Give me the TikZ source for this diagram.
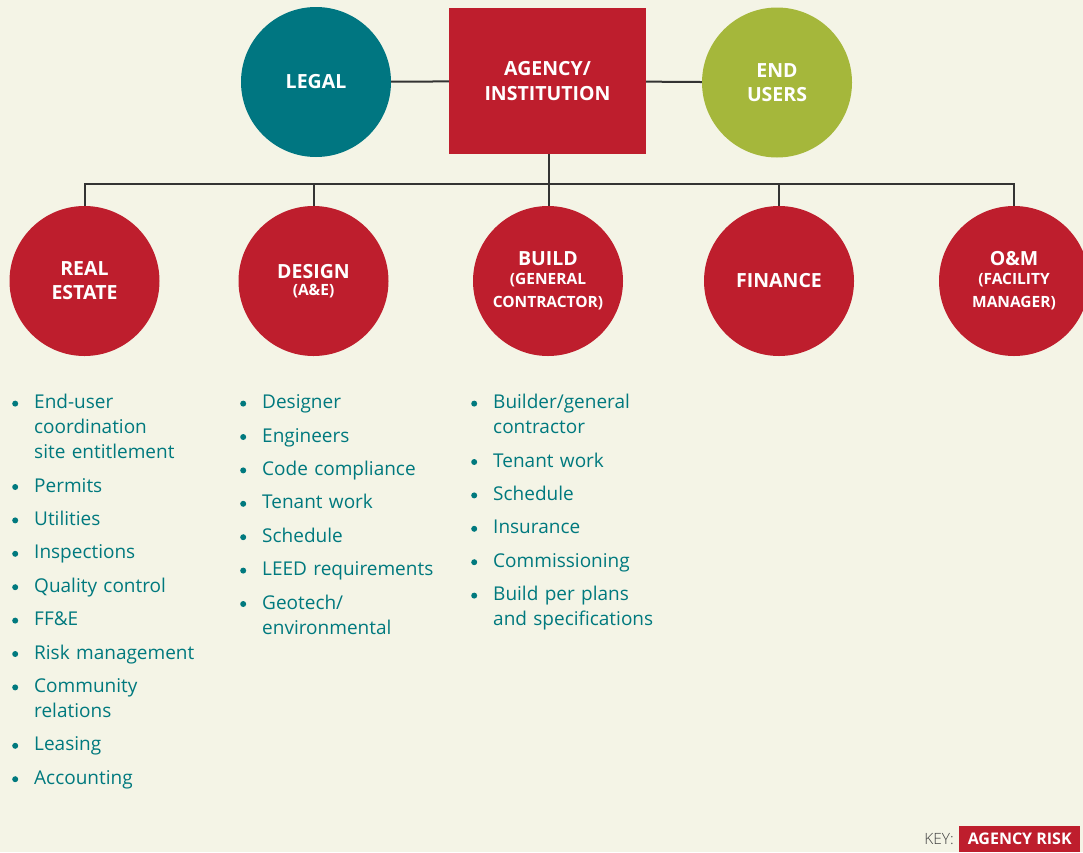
\documentclass[tikz,border=0pt]{standalone}
\usepackage{fontspec}
\setmainfont{Open Sans}
\newfontfamily\lightfont{Open Sans Light}
\definecolor{bg}{HTML}{F4F4E6}
\definecolor{agred}{HTML}{BE1E2D}
\definecolor{legalteal}{HTML}{007681}
\definecolor{usergreen}{HTML}{A5B73B}
\definecolor{listteal}{HTML}{00797E}
\definecolor{linegray}{HTML}{333333}
\newcommand{\bulletdot}{\raisebox{5pt}{\tikz[baseline=0pt]\fill[listteal] (0,0) circle (3pt);}}
\newcommand{\itm}[1]{\par\hangindent=22pt\hangafter=1\noindent\makebox[22pt][l]{\bulletdot}#1\par}
\newcommand{\listsetup}{\setlength{\parskip}{8.4pt}\setlength{\parindent}{0pt}\fontsize{19}{25}\selectfont}
\tikzset{
  x=1pt, y=1pt,
  conn/.style={draw=linegray, line width=2pt},
  bigcircle/.style={circle, minimum size=150pt, inner sep=0pt, fill=agred, text=white, align=center, font=\fontsize{19.5}{24}\selectfont\bfseries},
  listcol/.style={anchor=north west, inner sep=0pt, text width=240pt, text=listteal,
     font=\fontsize{19}{25}\selectfont},
}
\newcommand{\subt}[1]{{\fontsize{15.5}{17}\selectfont #1}}
\begin{document}
\begin{tikzpicture}
\useasboundingbox (0,0) rectangle (1083,-852);
\fill[bg] (0,0) rectangle (1083,-852);
% top row
\node[bigcircle, fill=legalteal] (legal) at (316,-82) {LEGAL};
\node[rectangle, minimum width=197pt, minimum height=146pt, inner sep=0pt, fill=agred, text=white, align=center,
      font=\fontsize{19.5}{25}\selectfont\bfseries] (agency) at (547.5,-81) {AGENCY/\\INSTITUTION};
\node[bigcircle, fill=usergreen] (endusers) at (777,-82.5) {END\\USERS};
% bottom row
\node[bigcircle] (realestate) at (84.5,-281) {REAL\\ESTATE};
\node[bigcircle] (design) at (313.5,-281) {DESIGN\\[-7pt]\subt{(A\&E)}};
\node[bigcircle] (build) at (548,-281) {BUILD\\[-5pt]\subt{(GENERAL}\\[-1pt]\subt{CONTRACTOR)}};
\node[bigcircle] (finance) at (779,-281) {FINANCE};
\node[bigcircle] (om) at (1014,-281) {O\&M\\[-5pt]\subt{(FACILITY}\\[-1pt]\subt{MANAGER)}};
\coordinate (bus) at (548.5,-184);
% connectors
\draw[conn] (legal) -- (agency);
\draw[conn] (agency) -- (endusers);
\draw[conn] (agency.south -| bus) -- (bus);
\draw[conn] (realestate.north) -- (realestate.north |- bus) -- (om.north |- bus) -- (om.north);
\draw[conn] (design.north) -- (design.north |- bus);
\draw[conn] (bus) -- (build.north -| bus);
\draw[conn] (finance.north) -- (finance.north |- bus);
% lists
\node[listcol] (list1) at (12,-375) {\listsetup
\itm{End-user\newline coordination\newline site entitlement}
\itm{Permits}
\itm{Utilities}
\itm{Inspections}
\itm{Quality control}
\itm{FF\&E}
\itm{Risk management}
\itm{Community\newline relations}
\itm{Leasing}
\itm{Accounting}};
\node[listcol] (list2) at (240,-375) {\listsetup
\itm{Designer}
\itm{Engineers}
\itm{Code compliance}
\itm{Tenant work}
\itm{Schedule}
\itm{LEED requirements}
\itm{Geotech/\newline environmental}};
\node[listcol] (list3) at (471,-375) {\listsetup
\itm{Builder/general\newline contractor}
\itm{Tenant work}
\itm{Schedule}
\itm{Insurance}
\itm{Commissioning}
\itm{Build per plans\newline and specifications}};
% key
\node[anchor=south west, minimum width=121pt, minimum height=26pt, inner sep=0pt, fill=agred, text=white,
      font=\fontsize{16}{18}\selectfont\bfseries] (keybox) at (959,-852) {AGENCY RISK};
\node[anchor=east, text=black!75, inner sep=0pt, font=\lightfont\fontsize{15.5}{18}\selectfont] (keylabel) at ([xshift=-5pt]keybox.west) {KEY:};
\end{tikzpicture}
\end{document}
